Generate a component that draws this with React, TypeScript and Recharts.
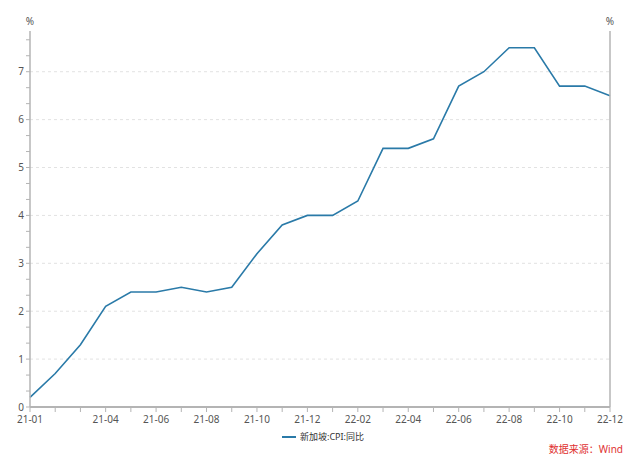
import { LineChart, Line, XAxis, YAxis, ReferenceLine } from "recharts";

const months = [
  "21-01", "21-02", "21-03", "21-04", "21-05", "21-06", "21-07", "21-08", "21-09", "21-10", "21-11", "21-12",
  "22-01", "22-02", "22-03", "22-04", "22-05", "22-06", "22-07", "22-08", "22-09", "22-10", "22-11", "22-12",
];
const cpiYoY = [
  0.2, 0.7, 1.3, 2.1, 2.4, 2.4, 2.5, 2.4, 2.5, 3.2, 3.8, 4.0,
  4.0, 4.3, 5.4, 5.4, 5.6, 6.7, 7.0, 7.5, 7.5, 6.7, 6.7, 6.5,
];
const shownMonths = [
  "21-01", "21-04", "21-06", "21-08", "21-10", "21-12",
  "22-02", "22-04", "22-06", "22-08", "22-10", "22-12",
];
const majorTicks = [0, 1, 2, 3, 4, 5, 6, 7];
const gridValues = [1, 2, 3, 4, 5, 6, 7];
const seriesName = "新加坡:CPI:同比";
const sourceText = "数据来源：Wind";

// minor ticks every 1/3 between labelled ones
const allTicks: number[] = [];
majorTicks.forEach((t) => {
  allTicks.push(t, t + 1 / 3, t + 2 / 3);
});

const data = months.map((m, i) => ({ month: m, value: cpiYoY[i] }));

const FONT = "'Segoe UI', 'Noto Sans', 'Noto Sans CJK SC', sans-serif";
const AXIS = "#b4b4b4";
const TEXT = "#555";
const LINE = "#2a7aa8";

const fmtY = (v: number) => (Math.abs(v - Math.round(v)) < 0.01 ? String(Math.round(v)) : "");

const App = () => {
  return (
    <div style={{ position: "absolute", left: 0, top: 0, width: 640, height: 459, fontFamily: FONT }}>
      <LineChart width={640} height={459} data={data} margin={{ top: 31, right: 0, bottom: 32, left: 0 }}>
        {gridValues.map((g) => (
          <ReferenceLine key={g} yAxisId="left" y={g} stroke="#e2e2e2" strokeDasharray="3 3" />
        ))}
        <XAxis
          dataKey="month"
          interval={0}
          height={20}
          tickFormatter={(v: string) => (shownMonths.includes(v) ? v : "")}
          tick={{ fontSize: 10, fill: TEXT, fontFamily: FONT }}
          axisLine={{ stroke: AXIS, strokeWidth: 2 }}
          tickLine={{ stroke: AXIS }}
          tickSize={5}
          tickMargin={4}
        />
        <YAxis
          yAxisId="left"
          width={30}
          domain={[0, 7.85]}
          ticks={allTicks.filter((t) => t < 7.85)}
          interval={0}
          tickFormatter={fmtY}
          tick={{ fontSize: 10, fill: TEXT, fontFamily: FONT }}
          axisLine={{ stroke: AXIS, strokeWidth: 1.5 }}
          tickLine={{ stroke: AXIS }}
          tickSize={4}
          tickMargin={2}
        />
        <YAxis
          yAxisId="right"
          orientation="right"
          width={30}
          domain={[0, 7.85]}
          ticks={allTicks.filter((t) => t < 7.85)}
          interval={0}
          tickFormatter={fmtY}
          tick={{ fontSize: 10, fill: TEXT, fontFamily: FONT }}
          axisLine={{ stroke: AXIS, strokeWidth: 1.5 }}
          tickLine={{ stroke: AXIS }}
          tickSize={4}
          tickMargin={2}
        />
        <Line
          yAxisId="left"
          type="linear"
          dataKey="value"
          name={seriesName}
          stroke={LINE}
          strokeWidth={1.6}
          dot={false}
          isAnimationActive={false}
        />
      </LineChart>
      <div style={{ position: "absolute", left: 24, top: 14, width: 12, textAlign: "center", fontSize: 10, color: TEXT }}>%</div>
      <div style={{ position: "absolute", left: 604, top: 14, width: 12, textAlign: "center", fontSize: 10, color: TEXT }}>%</div>
      <div
        style={{
          position: "absolute",
          left: 282,
          top: 430,
          display: "flex",
          alignItems: "center",
          fontSize: 9,
          color: "#333",
        }}
      >
        <span style={{ display: "inline-block", width: 14, height: 2, background: LINE, marginRight: 4 }} />
        {seriesName}
      </div>
      <div style={{ position: "absolute", right: 17, top: 441, fontSize: 10, color: "#e03030" }}>{sourceText}</div>
    </div>
  );
};

export default App;
